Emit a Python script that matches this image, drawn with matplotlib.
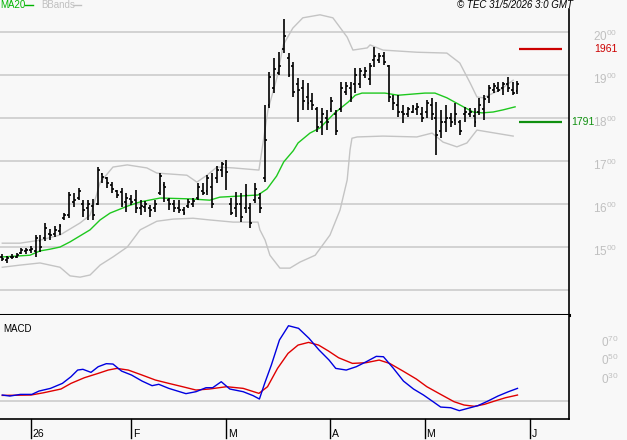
import matplotlib
matplotlib.use("Agg")
import matplotlib.pyplot as plt
import numpy as np

plt.rcParams['font.family'] = ['Liberation Sans', 'DejaVu Sans']

# daily OHLC, one entry per trading day (22 Dec 2025 .. 29 May 2026)
opens = [1478, 1470, 1476, 1478, 1486, 1490, 1492, 1490, 1515, 1520,
         1530, 1530, 1538, 1568, 1575, 1605, 1615, 1600, 1590, 1595,
         1600, 1670, 1660, 1645, 1630, 1628, 1605, 1612, 1610, 1590,
         1592, 1590, 1590, 1625, 1645, 1610, 1600, 1590, 1585, 1595,
         1600, 1615, 1630, 1630, 1640, 1660, 1680, 1690, 1600, 1590,
         1600, 1590, 1590, 1610, 1615, 1660, 1830, 1870, 1905, 1960,
         1940, 1920, 1880, 1870, 1850, 1840, 1820, 1790, 1800, 1820,
         1810, 1820, 1860, 1870, 1880, 1880, 1900, 1890, 1935, 1935,
         1945, 1920, 1845, 1830, 1815, 1810, 1815, 1820, 1810, 1815,
         1830, 1800, 1770, 1790, 1800, 1795, 1790, 1810, 1810, 1805,
         1815, 1820, 1850, 1865, 1870, 1870, 1880, 1865, 1862]
highs = [1484, 1479, 1484, 1486, 1498, 1498, 1502, 1528, 1528, 1556,
         1542, 1549, 1553, 1579, 1628, 1626, 1637, 1609, 1609, 1612,
         1686, 1672, 1663, 1651, 1633, 1637, 1626, 1621, 1633, 1609,
         1607, 1598, 1609, 1672, 1651, 1614, 1609, 1609, 1593, 1612,
         1614, 1649, 1649, 1667, 1672, 1688, 1698, 1702, 1614, 1628,
         1626, 1647, 1602, 1649, 1626, 1830, 1907, 1940, 1953, 2030,
         1951, 1930, 1893, 1888, 1881, 1858, 1826, 1823, 1819, 1849,
         1819, 1884, 1884, 1884, 1916, 1916, 1919, 1928, 1965, 1951,
         1953, 1923, 1853, 1853, 1830, 1826, 1830, 1835, 1826, 1842,
         1847, 1837, 1819, 1830, 1812, 1835, 1795, 1826, 1823, 1823,
         1847, 1853, 1877, 1881, 1884, 1884, 1895, 1884, 1886]
lows = [1467, 1463, 1472, 1474, 1484, 1484, 1486, 1477, 1488, 1514,
        1516, 1523, 1528, 1563, 1567, 1593, 1609, 1570, 1563, 1563,
        1598, 1649, 1637, 1626, 1614, 1593, 1581, 1598, 1579, 1574,
        1581, 1570, 1581, 1621, 1605, 1586, 1581, 1579, 1574, 1591,
        1593, 1609, 1621, 1621, 1591, 1649, 1663, 1633, 1574, 1570,
        1558, 1579, 1544, 1602, 1579, 1651, 1823, 1858, 1900, 1951,
        1895, 1849, 1791, 1819, 1819, 1819, 1767, 1760, 1772, 1814,
        1760, 1814, 1853, 1837, 1858, 1870, 1893, 1877, 1919, 1928,
        1923, 1837, 1819, 1802, 1788, 1802, 1812, 1807, 1791, 1800,
        1795, 1714, 1753, 1767, 1779, 1784, 1760, 1791, 1802, 1779,
        1807, 1795, 1835, 1858, 1860, 1853, 1860, 1853, 1856]
closes = [1472, 1475, 1478, 1482, 1494, 1494, 1496, 1520, 1500, 1545,
          1528, 1540, 1548, 1575, 1620, 1610, 1630, 1585, 1600, 1575,
          1680, 1662, 1650, 1635, 1620, 1600, 1615, 1605, 1590, 1595,
          1600, 1585, 1600, 1665, 1640, 1600, 1590, 1585, 1580, 1605,
          1608, 1640, 1625, 1660, 1600, 1680, 1692, 1675, 1580, 1600,
          1570, 1620, 1555, 1635, 1590, 1750, 1895, 1915, 1920, 1990,
          1900, 1860, 1865, 1840, 1835, 1830, 1780, 1810, 1790, 1840,
          1770, 1870, 1875, 1850, 1900, 1910, 1910, 1920, 1945, 1945,
          1930, 1850, 1835, 1815, 1810, 1820, 1825, 1825, 1800, 1835,
          1810, 1760, 1790, 1800, 1790, 1810, 1770, 1815, 1815, 1790,
          1830, 1845, 1870, 1875, 1865, 1878, 1870, 1858, 1880]

# MA20 and Bollinger bands at sample days
ma_day = [0, 5.8, 7.9, 10, 12.1, 14.2, 16.3, 18.4, 20.5, 22.6, 26.2, 28.9, 33.1,
          39.3, 43.5, 45.6, 53.6, 55.5, 57.5, 59, 61, 62, 64.5, 66.6, 69.7,
          72.5, 74, 75.4, 80.2, 83, 88.6, 90.7, 93.2, 96, 98.7, 100.6, 102.9,
          105, 107.5]
ma_val = [1477, 1481, 1491, 1495, 1500, 1512, 1526, 1540, 1563, 1579, 1595, 1605, 1614,
          1612, 1609, 1616, 1621, 1635, 1665, 1698, 1724, 1742, 1765, 1777, 1812,
          1837, 1853, 1858, 1858, 1853, 1858, 1858, 1847, 1830, 1814, 1812, 1814,
          1819, 1826]
up_day = [0, 3.7, 7.9, 12.1, 16.3, 18.4, 19.2, 20.5, 23.2, 26.2, 30.3, 32.4, 38.7,
          40.8, 42.9, 45, 48.4, 53.8, 55.7, 57.6, 58.9, 60.9, 63, 66.6, 69.3,
          72.3, 73.5, 76.5, 77.1, 79.8, 86.9, 93.2, 95.9, 98.1, 99.5, 100.8,
          104.3, 107.1]
up_val = [1509, 1509, 1516, 1528, 1556, 1574, 1600, 1650, 1686, 1691, 1684, 1672, 1667,
          1651, 1667, 1686, 1684, 1679, 1819, 1895, 1970, 2009, 2033, 2040, 2033,
          1988, 1958, 1963, 1970, 1958, 1953, 1951, 1928, 1881, 1849, 1847,
          1865, 1888]
lo_day = [0, 3.7, 7.9, 12.1, 14.2, 16.3, 18.4, 20.5, 23.2, 26.2, 28.9, 32.4, 35.8,
          40, 43.5, 48.4, 53.6, 54, 55.1, 56.1, 58.2, 60.3, 62.4, 65.6, 68.7,
          70.8, 72.3, 72.9, 73.3, 74.4, 79.8, 86.9, 90.1, 92.4, 95.3, 97.4,
          99.5, 102.2, 107.1]
lo_val = [1453, 1458, 1463, 1453, 1433, 1430, 1435, 1458, 1477, 1500, 1540, 1560, 1565,
          1567, 1563, 1558, 1558, 1540, 1516, 1481, 1451, 1451, 1465, 1481, 1528,
          1586, 1656, 1726, 1753, 1756, 1758, 1756, 1765, 1744, 1733, 1742,
          1772, 1767, 1758]

# MACD (blue) and signal (red)
macd_day = [0, 1.6, 3.8, 6.2, 7.7, 10.1, 12.6, 14.4, 15.8, 16.9, 18.6, 20.1, 21.8,
            23.2, 25, 27.1, 29.3, 31.4, 32.8, 34.9, 38.5, 40.6, 42.7, 44.1, 45.9,
            47.7, 50.5, 52.6, 53.9, 55, 56.4, 58.1, 60, 62.1, 64.3, 66.4, 68.5,
            69.9, 72.1, 74.2, 76.3, 78.4, 79.9, 82, 84.1, 86.2, 88.3, 90.5, 91.9,
            94, 95.8, 97.6, 99.7, 101.8, 103.9, 106.1, 108]
macd_val = [12.7, 11.6, 13.4, 13.4, 17.0, 19.9, 25.3, 32.5, 39.7, 40.5, 37.2, 43.3, 46.6,
            46.2, 38.6, 34.3, 27.8, 22.8, 24.3, 19.9, 14.2, 16.3, 20.6, 20.6, 27.1,
            19.2, 16.3, 12.0, 8.4, 25.3, 45.1, 72.2, 87.6, 84.8, 74.0, 61.4, 50.5,
            41.5, 39.7, 43.3, 48.7, 54.5, 54.1, 41.5, 27.8, 19.2, 12.7, 4.8, -0.3,
            -1.0, -4.2, -1.7, 1.2, 6.2, 11.6, 16.3, 19.9]
sig_day = [0, 6, 8.7, 12.3, 14.4, 17.2, 20.1, 22.2, 24, 26.4, 29.3, 32.1, 34.9,
           37.8, 40.6, 43.4, 47, 50.5, 53.8, 55.6, 57.7, 59.9, 62, 64.2, 66.3,
           68.4, 70.5, 73.4, 76.2, 79, 81.2, 84, 86.8, 89, 91.9, 94.7, 96.8,
           99, 101.1, 103.2, 105.5, 108]
sig_val = [12.3, 12.7, 15.2, 19.2, 25.3, 31.4, 36.1, 39.7, 41.5, 39.7, 34.3, 28.9, 25.3,
           21.7, 18.1, 19.2, 21.7, 19.9, 14.5, 21.7, 41.5, 57.7, 66.7, 69.6, 66.7,
           60.2, 53.0, 46.9, 47.6, 50.5, 46.9, 38.6, 30.0, 21.7, 13.4, 5.5, 1.9,
           0.5, 2.7, 6.2, 9.8, 12.7]

price_grid = [1400, 1500, 1600, 1700, 1800, 1900, 2000]
macd_ticks = [70, 50, 30]
month_pos = [6, 27, 47, 68.7, 88.6, 110.6]
month_lab = ['26', 'F', 'M', 'A', 'M', 'J']
level_hi, level_lo = 1961, 1791

bg = '#f8f8f8'
grid_c = '#c8c8c8'
fig = plt.figure(figsize=(6.27, 4.40), dpi=100, facecolor=bg)
W, H = 627.0, 440.0
ax = fig.add_axes([0, 1 - 315 / H, 569 / W, (315 - 9) / H], facecolor=bg)
ax2 = fig.add_axes([0, 1 - 419 / H, 569 / W, (419 - 315) / H], facecolor=bg, sharex=ax)

xmin, xmax = -0.48, 118.8
ax.set_xlim(xmin, xmax)
ax.set_ylim(1342, 2053.5)
ax2.set_ylim(-13.2, 99.2)

for a in (ax, ax2):
    a.set_xticks([])
    a.set_yticks([])
    for s in ('left', 'top'):
        a.spines[s].set_visible(False)
    a.spines['right'].set_color('black')
    a.spines['right'].set_linewidth(1.2)
ax.spines['bottom'].set_linewidth(2.2)
ax2.spines['top'].set_visible(False)
ax2.spines['bottom'].set_linewidth(1.2)

for g in price_grid:
    ax.axhline(g, color=grid_c, lw=1.1, zorder=1)

idx = np.arange(len(closes))
ax.plot(up_day, up_val, color='#c4c4c4', lw=1, zorder=2)
ax.plot(lo_day, lo_val, color='#c4c4c4', lw=1, zorder=2)
ax.plot(ma_day, ma_val, color='#1ec81e', lw=1, zorder=3)
ax.vlines(idx, lows, highs, color='black', lw=1.2, zorder=4)
ax.hlines(opens, idx - 0.4, idx, color='black', lw=1.2, zorder=4)
ax.hlines(closes, idx, idx + 0.4, color='black', lw=1.2, zorder=4)

ax.hlines(level_hi, 108.3, 117.3, color='#cc0000', lw=1.6, zorder=5)
ax.hlines(level_lo, 108.3, 117.3, color='#109010', lw=1.6, zorder=5)
ax.text(1.045, level_hi, str(level_hi), transform=ax.get_yaxis_transform(),
        color='#cc0000', fontsize=7.5, ha='left', va='center')
ax.text(1.003, level_lo, str(level_lo), transform=ax.get_yaxis_transform(),
        color='#109010', fontsize=7.5, ha='left', va='center')

for g in price_grid[1:]:
    ax.text(1.042, g - 11, r'$\mathregular{%s^{%s}}$' % (str(g)[:2], str(g)[2:]),
            transform=ax.get_yaxis_transform(), color='#c0c0c0', fontsize=8.5,
            ha='left', va='center')

ax2.axhline(6, color=grid_c, lw=1.1, zorder=1)
ax2.plot(sig_day, sig_val, color='#e00000', lw=1, zorder=3)
ax2.plot(macd_day, macd_val, color='#0000e0', lw=1, zorder=3)
for t in macd_ticks:
    ax2.text(1.056, t, r'$\mathregular{0^{%d}}$' % t, transform=ax2.get_yaxis_transform(),
             color='#c0c0c0', fontsize=8.5, ha='left', va='center')
ax2.text(3 / 569, 0.87, 'MACD', transform=ax2.transAxes, fontsize=7, va='center')

for p, lab in zip(month_pos, month_lab):
    ax2.plot([p, p], [0, -0.18], color='black', lw=1, clip_on=False,
             transform=ax2.get_xaxis_transform())
    ax2.text(p + 0.35, -0.14, lab, transform=ax2.get_xaxis_transform(),
             fontsize=7.5, ha='left', va='center')

fig.text(0, 1 - 5.5 / H, 'MA20', color='#00b400', fontsize=7, va='center')
fig.lines.append(plt.Line2D([25 / W, 33 / W], [1 - 5 / H] * 2, color='#00b400', lw=1,
                            transform=fig.transFigure))
fig.text(41 / W, 1 - 5.5 / H, 'BBands', color='#c0c0c0', fontsize=7, va='center')
fig.lines.append(plt.Line2D([73 / W, 81 / W], [1 - 5 / H] * 2, color='#c0c0c0', lw=1,
                            transform=fig.transFigure))
fig.text(573 / W, 1 - 5.5 / H, '© TEC 31/5/2026 3:0 GMT', fontsize=7, style='italic',
         ha='right', va='center')

fig.savefig('out.png', dpi=100, facecolor=bg)
